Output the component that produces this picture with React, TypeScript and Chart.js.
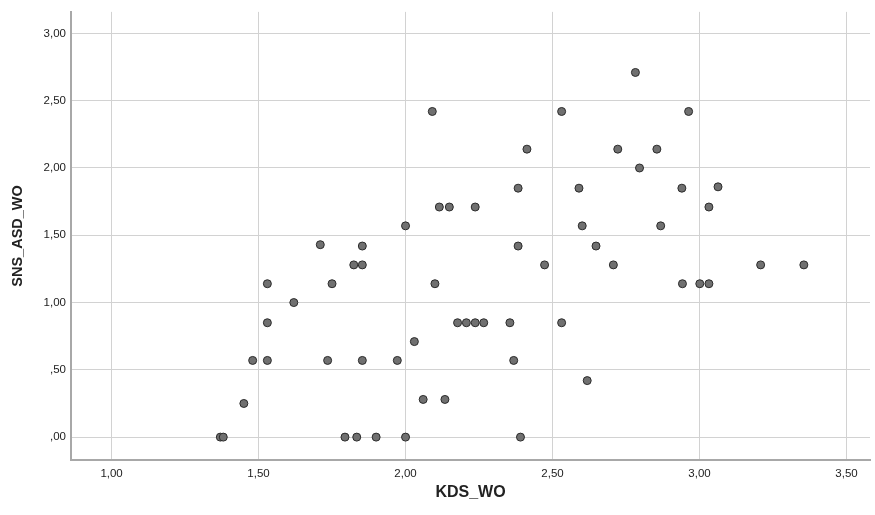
import React, { useEffect, useRef } from "react";
import { Chart, registerables } from "chart.js";

Chart.register(...registerables);

const xValues: number[] = [
  1.37, 1.38, 1.45, 1.48, 1.53, 1.53, 1.53, 1.62, 1.735, 1.75,
  1.71, 1.824, 1.853, 1.853, 1.853, 1.794, 1.834, 1.90, 2.00, 1.972,
  2.03, 2.06, 2.134, 2.10, 2.00, 2.091, 2.115, 2.149, 2.237, 2.177,
  2.207, 2.237, 2.266, 2.355, 2.368, 2.391, 2.383, 2.383, 2.413, 2.473,
  2.531, 2.531, 2.59, 2.601, 2.618, 2.648, 2.707, 2.722, 2.782, 2.796,
  2.855, 2.868, 2.94, 2.963, 3.063, 3.032, 3.208, 3.355, 2.942, 3.001,
  3.032,
];
const yValues: number[] = [
  0, 0, 0.25, 0.57, 0.57, 0.85, 1.14, 1.0, 0.57, 1.14,
  1.43, 1.28, 1.28, 1.42, 0.57, 0, 0, 0, 0, 0.57,
  0.71, 0.28, 0.28, 1.14, 1.57, 2.42, 1.71, 1.71, 1.71, 0.85,
  0.85, 0.85, 0.85, 0.85, 0.57, 0, 1.85, 1.42, 2.14, 1.28,
  2.42, 0.85, 1.85, 1.57, 0.42, 1.42, 1.28, 2.14, 2.71, 2.0,
  2.14, 1.57, 1.85, 2.42, 1.86, 1.71, 1.28, 1.28, 1.14, 1.14,
  1.14,
];
const xTicks: number[] = [1.0, 1.5, 2.0, 2.5, 3.0, 3.5];
const yTicks: number[] = [0, 0.5, 1.0, 1.5, 2.0, 2.5, 3.0];
const xTitle = "KDS_WO";
const yTitle = "SNS_ASD_WO";

const fmt = (v: number) => {
  let s = v.toFixed(2).replace(".", ",");
  if (s.startsWith("0,")) s = s.slice(1);
  return s;
};

export default function App() {
  const ref = useRef<HTMLCanvasElement | null>(null);
  useEffect(() => {
    if (!ref.current) return;
    const points = xValues.map((x, i) => ({ x, y: yValues[i] }));
    const tickFont = { family: "'Liberation Sans', Arial, sans-serif", size: 11.5 };
    const family = "'Liberation Sans', Arial, sans-serif";
    const chart = new Chart(ref.current, {
      type: "scatter",
      data: {
        datasets: [
          {
            data: points,
            backgroundColor: "#707070",
            borderColor: "#2b2b2b",
            borderWidth: 1,
            pointRadius: 4,
            pointHoverRadius: 4,
          },
        ],
      },
      options: {
        responsive: false,
        animation: false,
        layout: { padding: { top: 7, right: 4, left: 0, bottom: 0 } },
        plugins: { legend: { display: false }, tooltip: { enabled: false } },
        scales: {
          x: {
            type: "linear",
            min: 0.862,
            max: 3.58,
            afterBuildTicks: (s: any) => {
              s.ticks = xTicks.map((v) => ({ value: v }));
            },
            afterFit: (s: any) => {
              s.height = 55;
            },
            grid: { color: "#d2d2d2", lineWidth: 1, drawTicks: false },
            border: { color: "#a8a8a8", width: 2 },
            ticks: {
              padding: 7,
              color: "#222",
              font: tickFont,
              maxRotation: 0,
              callback: (v: any) => fmt(Number(v)),
            },
            title: {
              display: true,
              text: xTitle,
              color: "#222",
              font: { family, size: 16, weight: "bold" },
              padding: { top: 0, bottom: 12.5 },
            },
          },
          y: {
            type: "linear",
            min: -0.17,
            max: 3.16,
            afterBuildTicks: (s: any) => {
              s.ticks = yTicks.map((v) => ({ value: v }));
            },
            afterFit: (s: any) => {
              s.width = 71;
            },
            grid: { color: "#d2d2d2", lineWidth: 1, drawTicks: false },
            border: { color: "#a8a8a8", width: 2 },
            ticks: {
              padding: 5,
              color: "#222",
              font: tickFont,
              callback: (v: any) => fmt(Number(v)),
            },
            title: {
              display: true,
              text: yTitle,
              color: "#222",
              font: { family, size: 14.5, weight: "bold" },
              padding: { top: 9.5, bottom: 0 },
            },
          },
        },
      },
    });
    return () => chart.destroy();
  }, []);
  return (
    <div style={{ position: "absolute", left: 0, top: 0, width: 875, height: 515, background: "#fff" }}>
      <canvas ref={ref} width={875} height={515} />
    </div>
  );
}
